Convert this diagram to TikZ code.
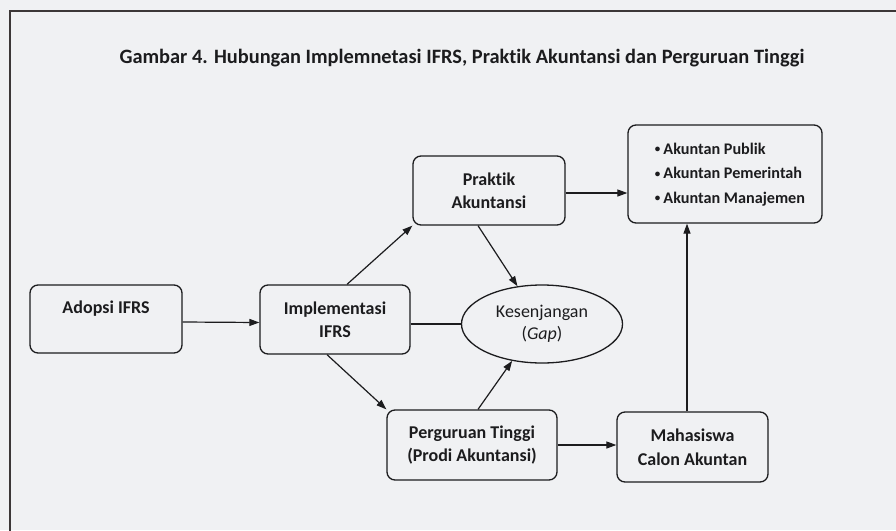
\documentclass[tikz,border=0pt]{standalone}
\usepackage{fontspec}
\setmainfont{Carlito}[Ligatures=NoCommon]
\usetikzlibrary{arrows.meta,shapes.geometric}
\definecolor{paper}{RGB}{240,241,243}
\definecolor{ink}{RGB}{28,28,30}
\definecolor{framec}{RGB}{60,55,55}
\newcommand\mybul{\raisebox{1.5pt}{\fontsize{11}{11}\selectfont\textbullet}\hspace{3pt}}
\tikzset{
  box/.style={draw=ink, line width=1.3pt, rounded corners=8pt, align=center,
    font=\fontsize{18}{23.5}\selectfont\bfseries, text=ink, inner sep=0pt},
  gapnode/.style={draw=ink, line width=1.3pt, ellipse, align=center,
    font=\fontsize{18}{22}\selectfont, text=ink, inner sep=0pt,
    minimum width=161pt, minimum height=78pt},
  conn/.style={draw=ink, line width=1.2pt},
  arr/.style={conn, -{Triangle[length=10pt,width=7pt]}},
}
\begin{document}
\begin{tikzpicture}[x=1pt,y=-1pt]
\useasboundingbox (0,0) rectangle (896,530);
\fill[paper] (0,0) rectangle (896,530);
\draw[framec, line width=1.2pt] (10,540) -- (10,11) -- (906,11);

\node[font=\fontsize{20.4}{24}\selectfont\bfseries, text=ink] (title) at (462,58)
  {Gambar 4. Hubungan Implemnetasi IFRS, Praktik Akuntansi dan Perguruan Tinggi};

\node[box, minimum width=152pt, minimum height=68pt] (adopsi) at (106,319)
  {Adopsi IFRS\\\mbox{}};
\node[box, minimum width=150pt, minimum height=69pt] (impl) at (335,319.5)
  {Implementasi\\IFRS};
\node[box, minimum width=152pt, minimum height=69pt] (praktik) at (489,190.5)
  {Praktik\\Akuntansi};
\node[box, minimum width=194pt, minimum height=98pt,
  font=\fontsize{16.2}{24.5}\selectfont\bfseries] (akuntan) at (725,174)
  {\begin{tabular}{@{\hspace{10pt}}l@{}}
   \mybul Akuntan Publik\\\mybul Akuntan Pemerintah\\\mybul Akuntan Manajemen
   \end{tabular}};
\node[gapnode] (gap) at (542,324) {Kesenjangan\\(\textit{Gap})};
\node[box, minimum width=170pt, minimum height=70pt] (pt) at (472,445)
  {Perguruan Tinggi\\(Prodi Akuntansi)};
\node[box, minimum width=151pt, minimum height=70pt] (maha) at (692.5,447)
  {Mahasiswa\\Calon Akuntan};

\coordinate (mt) at ([xshift=-5.5pt]maha.north);

\draw[arr] ([yshift=-3pt]adopsi.east) -- ([yshift=-3pt]impl.west);
\draw[arr] ([xshift=12pt]impl.north) -- (praktik.south west);
\draw[arr] ([yshift=-2.5pt]praktik.east) -- ([yshift=-2.5pt]praktik.east -| akuntan.west);
\draw[arr] ([xshift=-11pt]praktik.south) -- (gap.123);
\draw[conn] (gap.west -| impl.east) -- (gap.west);
\draw[arr] ([xshift=-8pt]impl.south) -- (pt.north west);
\draw[arr] ([xshift=6pt]pt.north) -- (gap.231);
\draw[arr] (pt.east) -- (pt.east -| maha.west);
\draw[arr] (mt) -- (mt |- akuntan.south);
\end{tikzpicture}
\end{document}
